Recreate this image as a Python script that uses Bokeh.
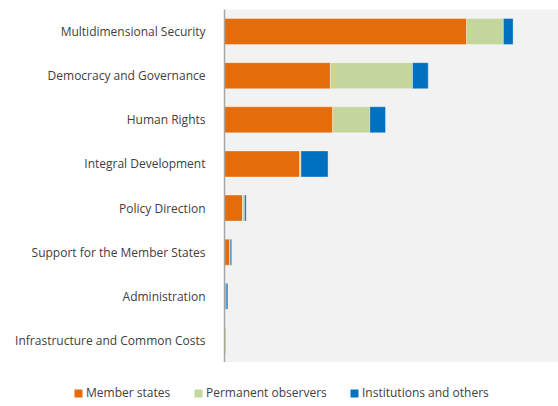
from bokeh.plotting import figure
from bokeh.layouts import column, row
from bokeh.models import FactorRange, Range1d, Legend, LegendItem, ColumnDataSource
from bokeh.embed import file_html
from bokeh.resources import INLINE

categories = [
    "Multidimensional Security",
    "Democracy and Governance",
    "Human Rights",
    "Integral Development",
    "Policy Direction",
    "Support for the Member States",
    "Administration",
    "Infrastructure and Common Costs",
]
member_states = [72.5, 31.7, 32.4, 22.5, 5.4, 1.6, 0.5, 0.0]
permanent_observers = [11.0, 24.6, 11.1, 0.4, 0.6, 0.1, 0.0, 0.6]
institutions_others = [2.9, 4.7, 4.7, 8.1, 0.5, 0.45, 0.5, 0.0]
series = ["Member states", "Permanent observers", "Institutions and others"]
colors = ["#E46C0A", "#C3D69B", "#0070C0"]
keys = ["ms", "po", "io"]

source = ColumnDataSource(dict(cat=categories, ms=member_states,
                               po=permanent_observers, io=institutions_others))

FONT = "Open Sans"
TXT = "#404040"

p = figure(width=558, height=362, output_backend="svg", toolbar_location=None,
           y_range=FactorRange(*reversed(categories)), x_range=Range1d(0, 100),
           min_border_left=224, min_border_right=0, min_border_top=9,
           min_border_bottom=0)
p.background_fill_color = "#F2F2F2"
p.border_fill_color = "white"
p.outline_line_color = None

p.hbar_stack(keys, y="cat", height=0.59, color=colors, source=source,
             line_color="white", line_alpha=0.35, line_width=1)

p.xaxis.visible = False
p.xgrid.visible = False
p.ygrid.visible = False
p.yaxis.axis_line_color = "#A6A6A6"
p.yaxis.axis_line_width = 1.5
p.yaxis.major_tick_line_color = None
p.yaxis.minor_tick_line_color = None
p.yaxis.major_label_text_font = FONT
p.yaxis.major_label_text_font_size = "12px"
p.yaxis.major_label_text_color = TXT
p.yaxis.major_label_standoff = 13
p.y_range.range_padding = 0

# legend strip below the chart (zero-height bars only feed the legend swatches)
q = figure(width=558, height=44, output_backend="svg", toolbar_location=None,
           x_range=Range1d(0, 100), y_range=FactorRange(*categories),
           min_border_left=0, min_border_right=0, min_border_top=0,
           min_border_bottom=0)
q.axis.visible = False
q.grid.visible = False
q.outline_line_color = None
q.background_fill_color = "white"
q.border_fill_color = "white"
swatches = q.hbar_stack(keys, y="cat", height=0, color=colors, source=source,
                        line_color=None)

xs = [73, 193, 349]
for name, r, x in zip(series, swatches, xs):
    leg = Legend(items=[LegendItem(label=name, renderers=[r])],
                 location=(x, 5), orientation="horizontal",
                 padding=0, margin=0, border_line_color=None,
                 background_fill_alpha=0, glyph_width=10, glyph_height=10,
                 label_height=10, label_standoff=3,
                 label_text_font=FONT, label_text_font_size="12px",
                 label_text_color=TXT)
    q.add_layout(leg, "center")

layout = column(p, row(q), spacing=0)
open("out.html", "w").write(file_html(layout, INLINE))
